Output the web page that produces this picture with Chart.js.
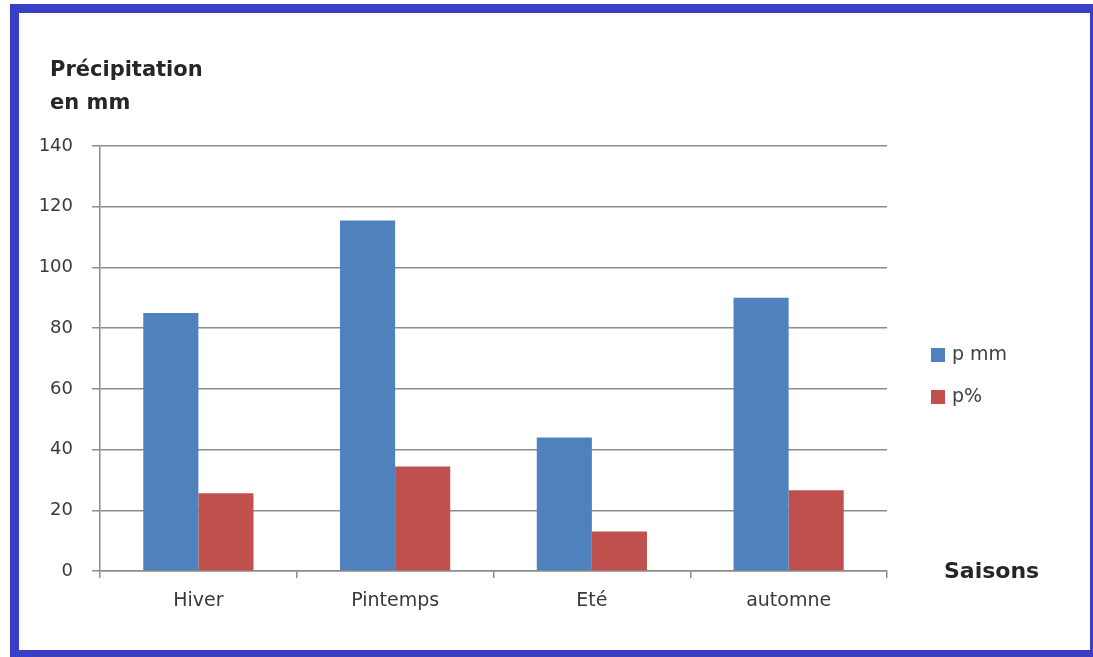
<!DOCTYPE html>
<html>
<head>
<meta charset="utf-8">
<title>Précipitation par saison</title>
<script src="https://cdn.jsdelivr.net/npm/chart.js@4.4.1/dist/chart.umd.min.js"></script>
<style>
  html, body { margin: 0; padding: 0; background: #fff; }
  #wrap { position: relative; width: 1093px; height: 657px; }
  #frame {
    position: absolute; left: 10px; top: 4px; right: 0; bottom: 0;
    box-sizing: border-box; pointer-events: none;
    border-style: solid; border-color: #3a40c6;
    border-width: 9px 3px 7px 9px;
  }
</style>
</head>
<body>
<div id="wrap">
  <canvas id="rainChart"></canvas>
  <div id="frame"></div>
</div>
<script>
// chart data
const seasons = ['Hiver', 'Pintemps', 'Eté', 'automne'];
const pMm = [85, 115.5, 44, 90];
const pPct = [25.6, 34.4, 13, 26.6];
const seriesNames = ['p mm', 'p%'];
const yTicks = [0, 20, 40, 60, 80, 100, 120, 140];
const yTitle = ['Précipitation', 'en mm'];
const xTitle = 'Saisons';

const FONT = '"DejaVu Sans", Verdana, sans-serif';

// titles + legend drawn next to the plot, like the Excel original
const sidePlugin = {
  id: 'sideText',
  afterDraw(chart) {
    const ctx = chart.ctx;
    ctx.save();
    ctx.fillStyle = '#262626';
    ctx.textAlign = 'left';
    ctx.textBaseline = 'alphabetic';
    ctx.font = 'bold 21px ' + FONT;
    ctx.fillText(yTitle[0], 50, 76);
    ctx.fillText(yTitle[1], 50, 109);
    ctx.font = 'bold 22px ' + FONT;
    ctx.fillText(xTitle, 944, 578);

    // legend
    ctx.font = '19px ' + FONT;
    ctx.textBaseline = 'middle';
    chart.data.datasets.forEach((ds, i) => {
      const cy = 355 + i * 42;
      ctx.fillStyle = ds.backgroundColor;
      ctx.fillRect(931, cy - 7, 14, 14);
      ctx.fillStyle = '#404040';
      ctx.fillText(ds.label, 952, cy);
    });
    ctx.restore();
  }
};

new Chart(document.getElementById('rainChart'), {
  type: 'bar',
  data: {
    labels: seasons,
    datasets: [
      { label: seriesNames[0], data: pMm, backgroundColor: '#4f81bd' },
      { label: seriesNames[1], data: pPct, backgroundColor: '#c0504d' }
    ]
  },
  options: {
    responsive: true,
    maintainAspectRatio: false,
    animation: false,
    layout: { padding: { left: 0, right: 206, top: 146, bottom: 0 } },
    datasets: {
      bar: { barPercentage: 1, categoryPercentage: 0.56 }
    },
    plugins: {
      legend: { display: false },
      tooltip: { enabled: false }
    },
    scales: {
      x: {
        afterFit: (s) => { s.height = 86; },
        grid: { drawOnChartArea: false, drawTicks: true, tickLength: 7, color: '#8c8c8c', lineWidth: 1.5 },
        border: { color: '#8c8c8c', width: 1.5 },
        ticks: { color: '#3a3a3a', padding: 12, font: { family: FONT, size: 19 } }
      },
      y: {
        min: 0,
        max: 140,
        afterFit: (s) => { s.width = 100; },
        afterBuildTicks: (s) => { s.ticks = yTicks.map(v => ({ value: v })); },
        grid: { color: '#8c8c8c', lineWidth: 1.5, tickLength: 8 },
        border: { color: '#8c8c8c', width: 1.5 },
        ticks: { color: '#3a3a3a', padding: 19, font: { family: FONT, size: 18 } }
      }
    }
  },
  plugins: [sidePlugin]
});
</script>
</body>
</html>
